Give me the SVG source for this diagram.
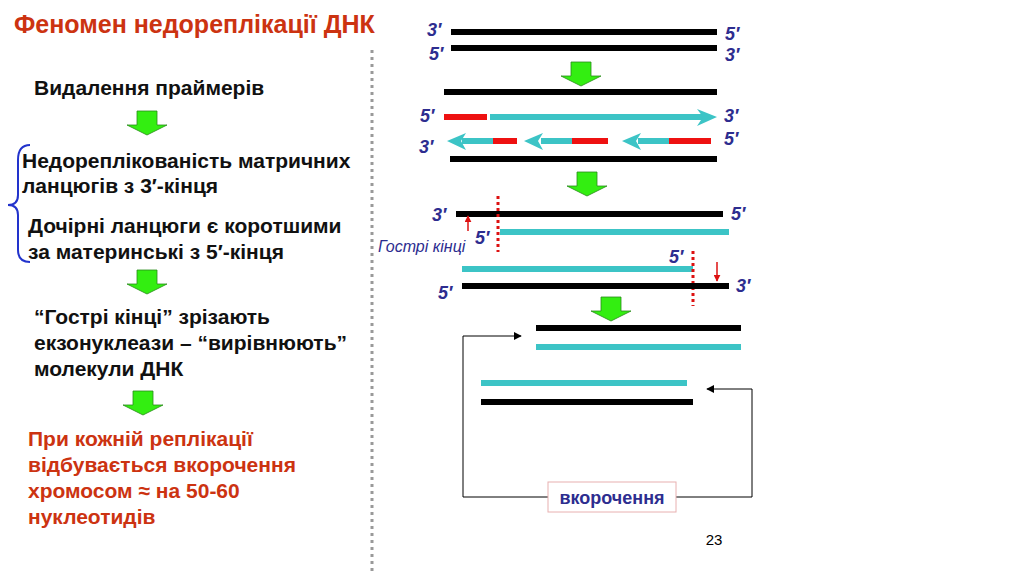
<svg xmlns="http://www.w3.org/2000/svg" width="1024" height="574" viewBox="0 0 1024 574">
<style>
text{font-family:"Liberation Sans",Arial,sans-serif;font-weight:bold}
.t{font-size:21px;fill:#111}
.r{font-size:21px;fill:#cc3311}
.p{font-size:18px;fill:#2d2d8f;font-style:italic}
.k{stroke:#000;stroke-width:6}
.c{stroke:#3cc4c6;stroke-width:6}
.d{stroke:#ee1111;stroke-width:6}
.g{fill:#33ee11;stroke:#2a8a1a;stroke-width:0.8}
.dot{stroke:#dd1111;stroke-width:3;stroke-dasharray:3 3}
</style>
<defs>
<marker id="ah" viewBox="0 0 10 10" refX="9" refY="5" markerWidth="8" markerHeight="8" orient="auto" markerUnits="userSpaceOnUse"><path d="M0,0L10,5L0,10z" fill="#000"/></marker>
<marker id="rh" viewBox="0 0 10 10" refX="9" refY="5" markerWidth="7" markerHeight="7" orient="auto" markerUnits="userSpaceOnUse"><path d="M0,0L10,5L0,10z" fill="#dd1111"/></marker>
<path id="ga" d="M-10,0H10V14H20L0,24L-20,14H-10Z"/>
</defs>
<rect width="1024" height="574" fill="#fff"/>
<line x1="372" y1="50" x2="372" y2="574" stroke="#999" stroke-width="3" stroke-dasharray="3 4"/>
<g id="left">
<text x="14" y="33" style="font-size:25px;fill:#cc3311">Феномен недореплікації ДНК</text>
<text class="t" x="34" y="95">Видалення праймерів</text>
<use href="#ga" x="147" y="111" class="g"/>
<path d="M30,145 Q18,145 18,160 V195 Q18,205 8,205 Q18,205 18,215 V250 Q18,262 30,262" fill="none" stroke="#2233cc" stroke-width="2"/>
<text class="t" x="22" y="168">Недореплікованість матричних</text>
<text class="t" x="22" y="193">ланцюгів з 3′-кінця</text>
<text class="t" x="28" y="233">Дочірні ланцюги є коротшими</text>
<text class="t" x="28" y="259">за материнські з 5′-кінця</text>
<use href="#ga" x="147" y="270" class="g"/>
<text class="t" x="34" y="324">“Гострі кінці” зрізають</text>
<text class="t" x="34" y="350">екзонуклеази – “вирівнюють”</text>
<text class="t" x="34" y="376">молекули ДНК</text>
<use href="#ga" x="143" y="391" class="g"/>
<text class="r" x="28" y="446">При кожній реплікації</text>
<text class="r" x="28" y="472">відбувається вкорочення</text>
<text class="r" x="28" y="498">хромосом ≈ на 50-60</text>
<text class="r" x="28" y="524">нуклеотидів</text>
</g>
<g id="right">
<text class="p" x="427" y="36">3′</text><line class="k" x1="451" y1="32" x2="717" y2="32"/><text class="p" x="725" y="40">5′</text>
<text class="p" x="429" y="60">5′</text><line class="k" x1="451" y1="48" x2="717" y2="48"/><text class="p" x="725" y="61">3′</text>
<use href="#ga" x="581" y="62" class="g"/>
<line class="k" x1="444" y1="92" x2="717" y2="92"/>
<text class="p" x="420" y="122">5′</text>
<line class="d" x1="444" y1="117" x2="487" y2="117"/>
<line class="c" x1="490" y1="117" x2="705" y2="117"/>
<path d="M697,109L717,117L697,126L703,117Z" fill="#3cc4c6"/>
<text class="p" x="724" y="122">3′</text>
<text class="p" x="419" y="153">3′</text>
<path d="M447,141L466,133L461,141L466,150Z" fill="#3cc4c6"/>
<line class="c" x1="462" y1="141" x2="493" y2="141"/><line class="d" x1="493" y1="141" x2="517" y2="141"/>
<path d="M524,141L543,133L538,141L543,150Z" fill="#3cc4c6"/>
<line class="c" x1="541" y1="141" x2="572" y2="141"/><line class="d" x1="572" y1="141" x2="608" y2="141"/>
<path d="M622,141L641,133L636,141L641,150Z" fill="#3cc4c6"/>
<line class="c" x1="638" y1="141" x2="669" y2="141"/><line class="d" x1="669" y1="141" x2="711" y2="141"/>
<text class="p" x="724" y="145">5′</text>
<line class="k" x1="450" y1="159" x2="717" y2="159"/>
<use href="#ga" x="587" y="172" class="g"/>
<text class="p" x="432" y="221">3′</text><line class="k" x1="456" y1="214" x2="723" y2="214"/><text class="p" x="731" y="220">5′</text>
<line class="dot" x1="498" y1="196" x2="498" y2="252"/>
<line x1="468" y1="231" x2="468" y2="216" stroke="#dd1111" stroke-width="1.5" marker-end="url(#rh)"/>
<text class="p" x="378" y="252" style="font-size:16px;font-weight:normal">Гострі кінці</text>
<text class="p" x="475" y="244">5′</text>
<line class="c" x1="500" y1="232" x2="729" y2="232"/>
<text class="p" x="669" y="263">5′</text>
<line class="c" x1="462" y1="269" x2="693" y2="269"/>
<line class="dot" x1="693" y1="251" x2="693" y2="306"/>
<line x1="717" y1="262" x2="717" y2="281" stroke="#dd1111" stroke-width="1.5" marker-end="url(#rh)"/>
<text class="p" x="438" y="299">5′</text><line class="k" x1="462" y1="286" x2="729" y2="286"/><text class="p" x="736" y="292">3′</text>
<use href="#ga" x="611" y="297" class="g"/>
<line class="k" x1="536" y1="328" x2="741" y2="328"/>
<line class="c" x1="536" y1="347" x2="741" y2="347"/>
<line class="c" x1="481" y1="383" x2="687" y2="383"/>
<line class="k" x1="481" y1="402" x2="693" y2="402"/>
</g>
<g id="connectors" fill="none" stroke="#000" stroke-width="1">
<path d="M548,497H463V336H521" marker-end="url(#ah)"/>
<path d="M676,497H752V389H707" marker-end="url(#ah)"/>
</g>
<g id="box">
<rect x="548" y="482" width="128" height="30" fill="#fff" stroke="#e8b0b0"/>
<text x="612" y="504" text-anchor="middle" style="font-size:18px;fill:#2d2d8f">вкорочення</text>
</g>
<text x="714" y="545" text-anchor="middle" style="font-size:15px;font-weight:normal;fill:#000">23</text>
</svg>
